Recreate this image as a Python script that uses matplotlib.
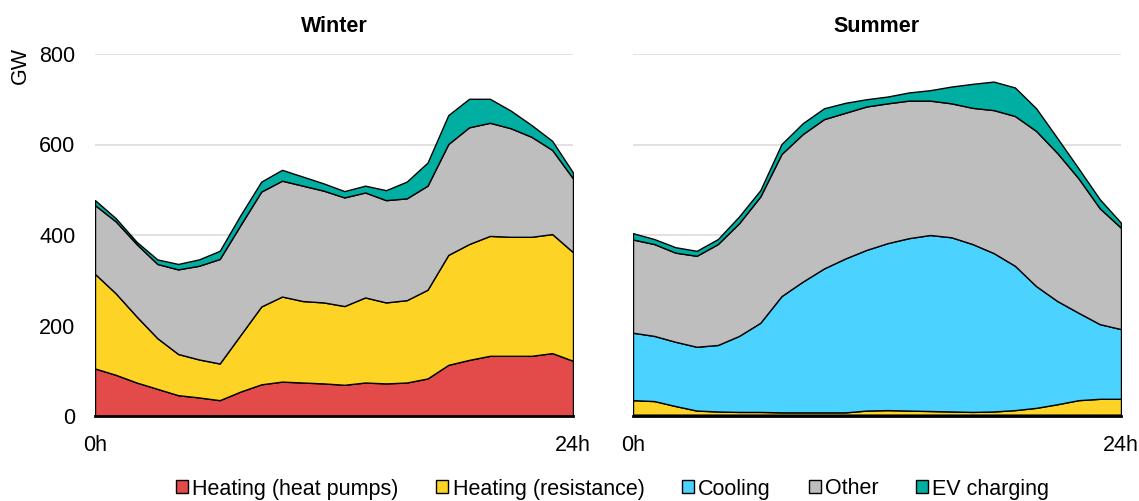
import numpy as np
import matplotlib
matplotlib.use('Agg')
from matplotlib import pyplot as plt
from matplotlib.patches import Patch

plt.rcParams['font.family'] = ['Liberation Sans', 'DejaVu Sans']

hours = list(range(24))
labels = ['Heating (heat pumps)', 'Heating (resistance)', 'Cooling', 'Other', 'EV charging']
colors = ['#E24B4A', '#FDD426', '#4BD2FF', '#BEBEBE', '#00AFA2']

# winter: cumulative tops of each layer (GW)
w_heatpump_top = [105, 91, 74, 60, 46, 41, 35, 54, 70, 76, 74, 72, 69, 74, 72, 74,
                  83, 113, 124, 133, 133, 133, 139, 122]
w_resist_top = [314, 271, 220, 172, 137, 125, 116, 179, 242, 264, 254, 251, 243, 262, 251, 256,
                279, 356, 380, 398, 396, 396, 402, 362]
w_other_top = [466, 430, 380, 336, 324, 332, 347, 422, 496, 520, 509, 498, 483, 494, 477, 481,
               509, 601, 638, 648, 636, 617, 588, 525]
w_total = [477, 437, 385, 346, 336, 346, 365, 444, 518, 544, 529, 514, 497, 509, 499, 518,
           560, 665, 701, 701, 675, 643, 608, 538]

# summer: cumulative tops of each layer (GW)
s_heatpump_top = [3] * 24
s_resist_top = [35, 33, 22, 12, 10, 9, 9, 8, 8, 8, 8, 12, 13, 12, 11, 10,
                9, 10, 13, 18, 26, 35, 38, 38]
s_cool_top = [184, 177, 164, 153, 157, 177, 206, 265, 297, 326, 348, 367, 382, 393, 400, 395,
              380, 360, 332, 287, 254, 228, 203, 192]
s_other_top = [390, 380, 361, 354, 380, 426, 485, 579, 623, 656, 670, 684, 691, 697, 697, 691,
               681, 676, 663, 630, 581, 525, 459, 416]
s_total = [404, 391, 373, 365, 391, 441, 499, 601, 647, 680, 692, 700, 706, 715, 720, 728,
           734, 739, 726, 680, 614, 547, 479, 427]


def layers(tops):
    tops = np.array(tops, dtype=float)
    return np.diff(np.vstack([np.zeros(tops.shape[1]), tops]), axis=0)


winter = layers([w_heatpump_top, w_resist_top, w_resist_top, w_other_top, w_total])
summer = layers([s_heatpump_top, s_resist_top, s_cool_top, s_other_top, s_total])

fig = plt.figure(figsize=(11.39, 5.01), dpi=100)
ax1 = fig.add_axes([95 / 1139, 85 / 501, 478 / 1139, 362 / 501])
ax2 = fig.add_axes([633 / 1139, 85 / 501, 488 / 1139, 362 / 501])

for ax, data, title in [(ax1, winter, 'Winter'), (ax2, summer, 'Summer')]:
    for y in [200, 400, 600, 800]:
        ax.axhline(y, color='#DEDEDE', lw=1.3, zorder=0)
    keep = [i for i in range(5) if data[i].any()]
    ax.stackplot(hours, *[data[i] for i in keep], colors=[colors[i] for i in keep],
                 edgecolor='black', linewidth=1.0, zorder=2)
    ax.set_xlim(0, 23)
    ax.set_ylim(0, 800)
    ax.set_xticks([0, 23])
    ax.set_xticklabels(['0h', '24h'])
    ax.set_yticks([0, 200, 400, 600, 800])
    ax.tick_params(axis='y', length=0, labelsize=15.5, pad=14)
    ax.tick_params(axis='x', length=0, labelsize=15.5, pad=14)
    for s in ['top', 'right', 'left']:
        ax.spines[s].set_visible(False)
    ax.spines['bottom'].set_color('black')
    ax.spines['bottom'].set_linewidth(2)
    ax.spines['bottom'].set_zorder(3)
    ax.set_title(title, fontsize=15.5, fontweight='bold', pad=16)

ax2.set_yticklabels([])
fig.text(20 / 1139, 1 - 66 / 501, 'GW', rotation=90, fontsize=15.5, ha='center', va='center')

handles = [Patch(facecolor=c, edgecolor='black', linewidth=1.0) for c in colors]
fig.legend(handles, labels, loc='center', bbox_to_anchor=(0.538, 1 - 489 / 501), ncol=5,
           frameon=False, fontsize=15.5, handlelength=0.55, handleheight=0.55,
           handletextpad=0.2, columnspacing=1.75)

fig.savefig('out.png', dpi=100)
